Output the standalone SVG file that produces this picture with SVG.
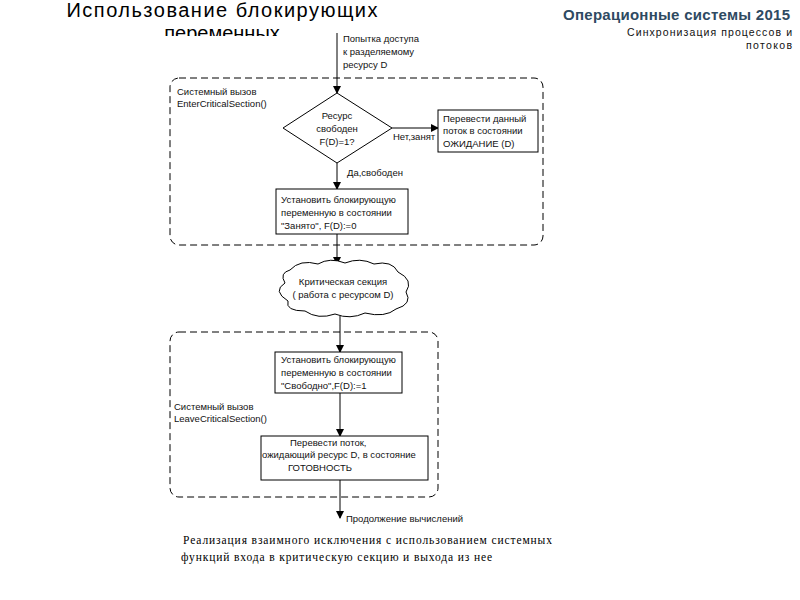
<svg xmlns="http://www.w3.org/2000/svg" width="800" height="600" viewBox="0 0 800 600">
<style>
.t{font-family:"Liberation Sans",Arial,sans-serif;font-size:9.5px;fill:#111}
.box{fill:#fff;stroke:#000;stroke-width:1}
.dash{fill:none;stroke:#000;stroke-width:1;stroke-dasharray:7,4}
.ln{stroke:#000;stroke-width:1;fill:none}
.cap{font-family:"Liberation Serif","Times New Roman",serif;font-size:11.5px;fill:#000}
</style>
<defs>
<marker id="ah" markerWidth="8" markerHeight="8" refX="7" refY="4" orient="auto" markerUnits="userSpaceOnUse">
<path d="M0,0 L8,4 L0,8 Z" fill="#000"/>
</marker>
<clipPath id="tc"><rect x="0" y="0" width="800" height="36"/></clipPath>
</defs>
<rect width="800" height="600" fill="#fff"/>
<g id="title" clip-path="url(#tc)">
<text x="222" y="17" text-anchor="middle" font-family="Liberation Sans,Arial,sans-serif" font-size="20" textLength="311" fill="#000">Использование блокирующих</text>
<text x="222" y="40" text-anchor="middle" font-family="Liberation Sans,Arial,sans-serif" font-size="20" fill="#000">переменных</text>
</g>
<g id="header">
<text x="790" y="20" text-anchor="end" font-family="Liberation Sans,Arial,sans-serif" font-size="15" font-weight="bold" textLength="227" fill="#2e4a62">Операционные системы 2015</text>
<text x="792" y="36" text-anchor="end" font-family="Liberation Sans,Arial,sans-serif" font-size="10.5" textLength="165" fill="#111">Синхронизация процессов и</text>
<text x="792" y="49" text-anchor="end" font-family="Liberation Sans,Arial,sans-serif" font-size="10.5" textLength="46" fill="#111">потоков</text>
</g>
<g id="group-enter">
<rect class="dash" x="170" y="78" width="373" height="167" rx="9"/>
<text class="t" x="177" y="95">Системный вызов</text>
<text class="t" x="177" y="107">EnterCriticalSection()</text>
</g>
<g id="group-leave">
<rect class="dash" x="170" y="332" width="268" height="165" rx="9"/>
<text class="t" x="174" y="410">Системный вызов</text>
<text class="t" x="174" y="422">LeaveCriticalSection()</text>
</g>
<g id="connectors">
<line class="ln" x1="337" y1="33" x2="337" y2="93" marker-end="url(#ah)"/>
<line class="ln" x1="392" y1="128" x2="438" y2="128" marker-end="url(#ah)"/>
<line class="ln" x1="337" y1="163" x2="337" y2="189" marker-end="url(#ah)"/>
<line class="ln" x1="337" y1="234" x2="337" y2="264" marker-end="url(#ah)"/>
<line class="ln" x1="340" y1="316" x2="340" y2="352" marker-end="url(#ah)"/>
<line class="ln" x1="340" y1="393" x2="340" y2="436" marker-end="url(#ah)"/>
<line class="ln" x1="340" y1="480" x2="340" y2="518" marker-end="url(#ah)"/>
<text class="t" x="343" y="42">Попытка доступа</text>
<text class="t" x="343" y="55">к разделяемому</text>
<text class="t" x="343" y="68">ресурсу D</text>
<text class="t" x="393" y="140">Нет,занят</text>
<text class="t" x="347" y="176">Да,свободен</text>
<text class="t" x="346" y="522">Продолжение вычислений</text>
</g>
<g id="decision">
<polygon class="box" points="337,93 392,128 337,163 283,128"/>
<text class="t" x="337" y="119" text-anchor="middle">Ресурс</text>
<text class="t" x="337" y="132" text-anchor="middle">свободен</text>
<text class="t" x="337" y="145" text-anchor="middle">F(D)=1?</text>
</g>
<g id="wait">
<rect class="box" x="438" y="110" width="100" height="42"/>
<text class="t" x="443" y="122">Перевести данный</text>
<text class="t" x="443" y="134">поток в состоянии</text>
<text class="t" x="443" y="147">ОЖИДАНИЕ (D)</text>
</g>
<g id="set-busy">
<rect class="box" x="276" y="189" width="132" height="45"/>
<text class="t" x="281" y="203">Установить блокирующую</text>
<text class="t" x="281" y="216">переменную в состоянии</text>
<text class="t" x="281" y="229">"Занято", F(D):=0</text>
</g>
<g id="critical">
<path class="box" d="M290,270 Q300,259 318,264 Q330,257 345,263 Q360,257 374,264 Q392,260 398,272 Q414,280 406,292 Q413,304 396,309 Q385,318 365,313 Q350,320 335,314 Q318,320 305,311 Q285,311 288,301 Q272,291 285,283 Q279,273 290,270 Z"/>
<text class="t" x="343" y="285" text-anchor="middle">Критическая секция</text>
<text class="t" x="343" y="298" text-anchor="middle">( работа с ресурсом D)</text>
</g>
<g id="set-free">
<rect class="box" x="275" y="352" width="127" height="41"/>
<text class="t" x="281" y="363">Установить блокирующую</text>
<text class="t" x="281" y="376">переменную в состоянии</text>
<text class="t" x="281" y="389">"Свободно",F(D):=1</text>
</g>
<g id="ready">
<rect class="box" x="261" y="436" width="167" height="44"/>
<text class="t" x="290" y="446">Перевести поток,</text>
<text class="t" x="262" y="458">ожидающий ресурс D, в состояние</text>
<text class="t" x="288" y="471">ГОТОВНОСТЬ</text>
</g>
<g id="caption">
<text class="cap" x="183" y="544" textLength="369">Реализация взаимного исключения с использованием системных</text>
<text class="cap" x="181" y="561" textLength="311">функций входа в критическую секцию и выхода из нее</text>
</g>
</svg>
